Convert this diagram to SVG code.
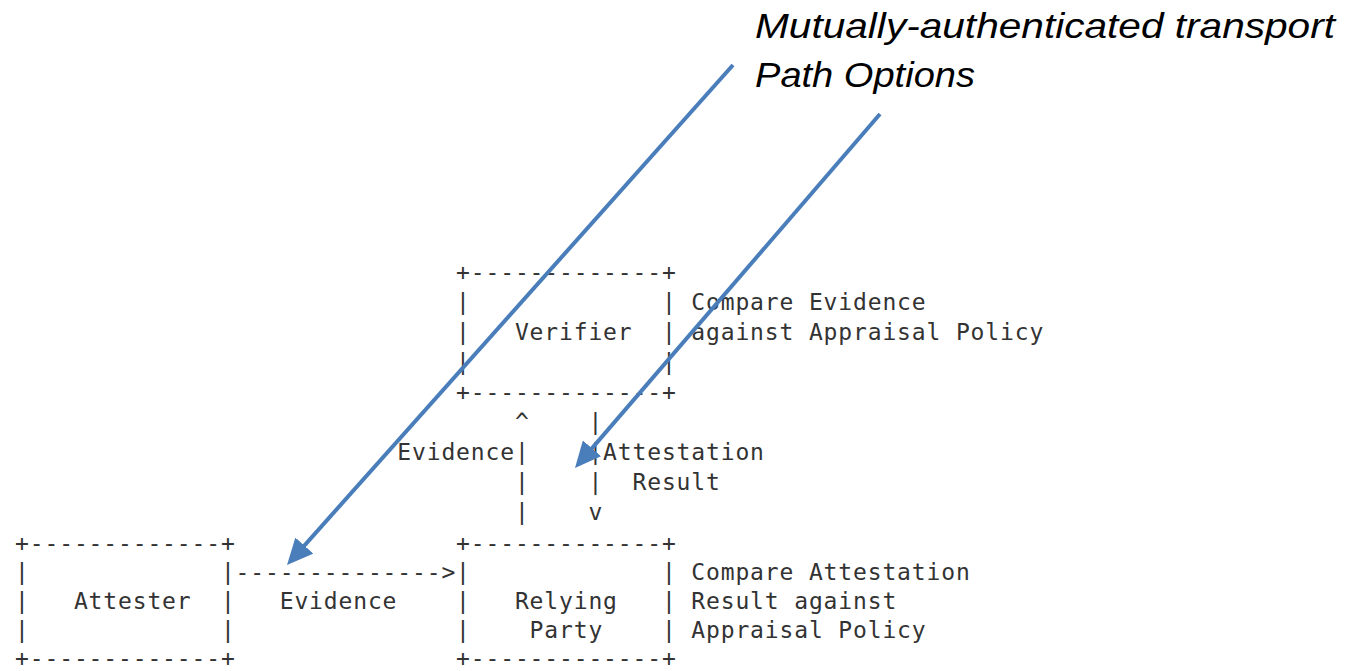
<svg xmlns="http://www.w3.org/2000/svg" width="1345" height="671" viewBox="0 0 1345 671" xml:space="preserve">
<style>
.m { font-family: "DejaVu Sans Mono", "Liberation Mono", monospace; font-size: 23px; letter-spacing: 0.852px; fill: #333333; white-space: pre; }
.t { font-family: "Liberation Sans", Arial, sans-serif; font-style: italic; font-size: 35px; fill: #000000; }
.blue { stroke: #4a7ebb; stroke-width: 4; fill: none; marker-end: url(#bh); }
</style>
<defs>
<marker id="bh" markerUnits="userSpaceOnUse" viewBox="0 0 26 24" markerWidth="26" markerHeight="24" refX="5" refY="12" orient="auto">
<path d="M0,0 L26,12 L0,24 z" fill="#4a7ebb"/>
</marker>
</defs>
<rect width="1345" height="671" fill="#ffffff"/>

<g id="node-verifier">
<text class="m" x="456.1" y="280">+-------------+</text>
<text class="m" x="456.1" y="310">|             |</text>
<text class="m" x="456.1" y="340">|   Verifier  |</text>
<text class="m" x="456.1" y="370">|             |</text>
<text class="m" x="456.1" y="400">+-------------+</text>
<text class="m" x="691.3" y="310">Compare Evidence</text>
<text class="m" x="691.3" y="340">against Appraisal Policy</text>
</g>

<g id="node-attester">
<text class="m" x="15.1" y="551">+-------------+</text>
<text class="m" x="15.1" y="580">|             |</text>
<text class="m" x="15.1" y="609">|   Attester  |</text>
<text class="m" x="15.1" y="638">|             |</text>
<text class="m" x="15.1" y="666">+-------------+</text>
</g>

<g id="node-relying-party">
<text class="m" x="456.1" y="551">+-------------+</text>
<text class="m" x="456.1" y="580">|             |</text>
<text class="m" x="456.1" y="609">|   Relying   |</text>
<text class="m" x="456.1" y="638">|    Party    |</text>
<text class="m" x="456.1" y="666">+-------------+</text>
<text class="m" x="691.3" y="580">Compare Attestation</text>
<text class="m" x="691.3" y="609">Result against</text>
<text class="m" x="691.3" y="638">Appraisal Policy</text>
</g>

<g id="connectors">
<g id="evidence-up">
<text class="m" x="514.9" y="430">^</text>
<text class="m" x="397.3" y="460">Evidence|</text>
<text class="m" x="514.9" y="490">|</text>
<text class="m" x="514.9" y="520">|</text>
</g>
<g id="attestation-result-down">
<text class="m" x="588.4" y="430">|</text>
<text class="m" x="588.4" y="460">|Attestation</text>
<text class="m" x="588.4" y="490">|  Result</text>
<text class="m" x="588.4" y="520">v</text>
</g>
<g id="evidence-right">
<text class="m" x="235.6" y="580">--------------&gt;</text>
<text class="m" x="279.7" y="609">Evidence</text>
</g>
<g id="annotation-arrows">
<line class="blue" x1="733" y1="65" x2="301" y2="549.3"/>
<line class="blue" x1="880" y1="114" x2="588.7" y2="452.1"/>
</g>
</g>

<g id="annotation">
<text class="t" x="755" y="38" textLength="580" lengthAdjust="spacingAndGlyphs">Mutually-authenticated transport</text>
<text class="t" x="755" y="87" textLength="220" lengthAdjust="spacingAndGlyphs">Path Options</text>
</g>
</svg>
